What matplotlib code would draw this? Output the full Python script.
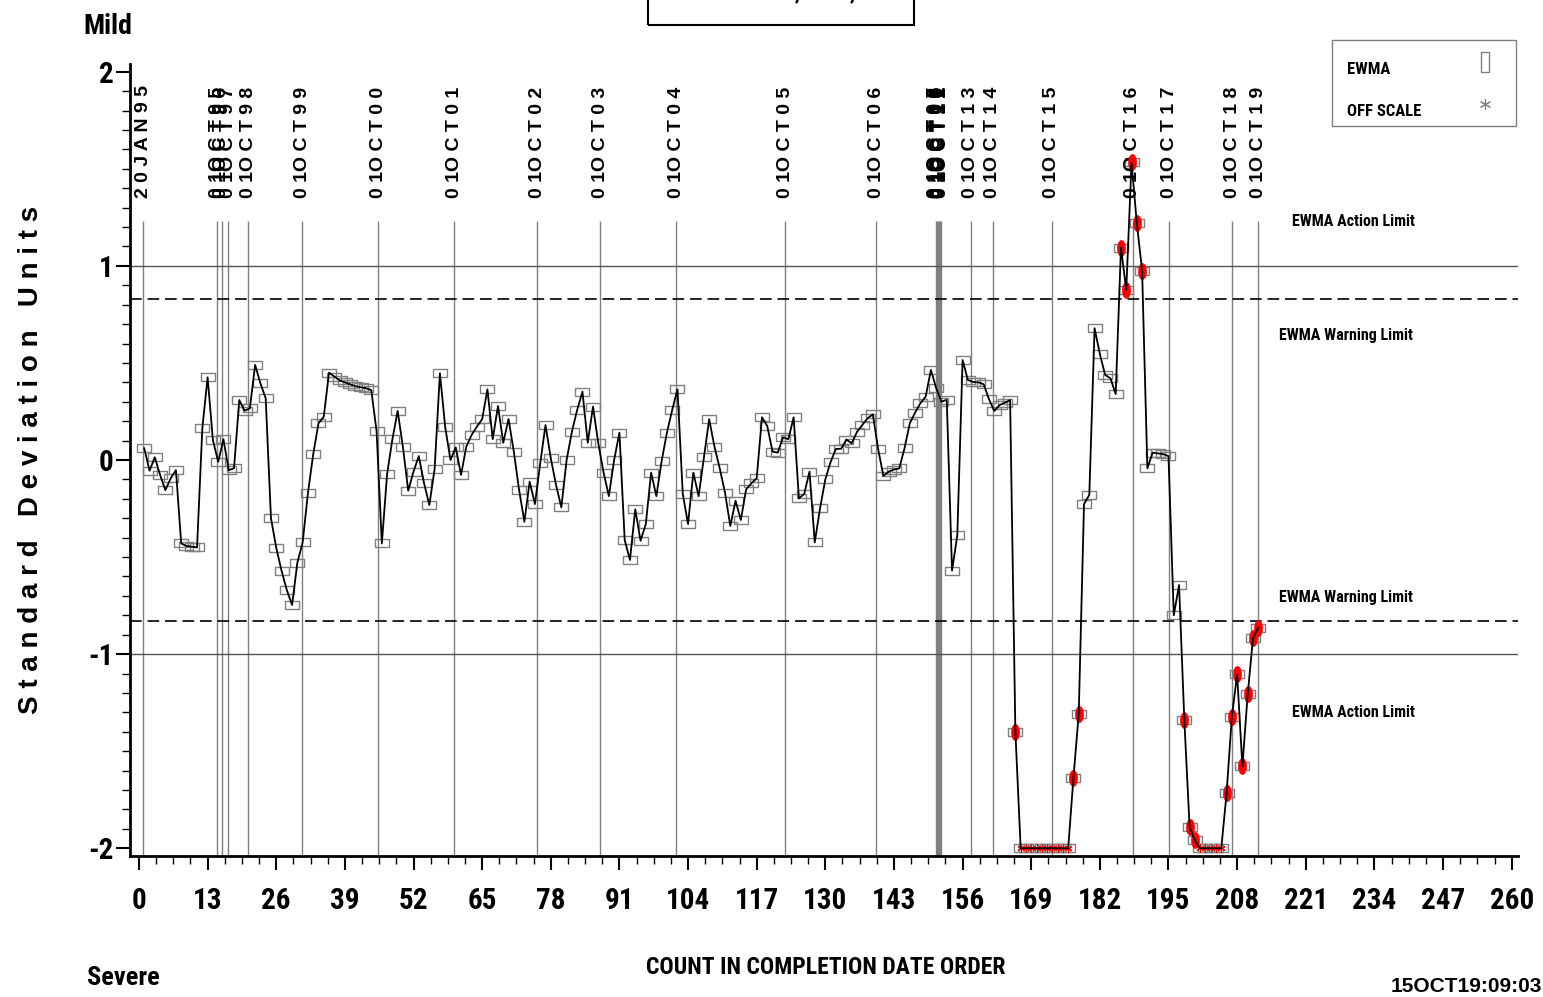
import matplotlib
matplotlib.use("Agg")
import matplotlib.pyplot as plt
import numpy as np
from matplotlib.ticker import MultipleLocator, FixedLocator
from matplotlib.lines import Line2D
from matplotlib.patches import Rectangle

W, H = 1543, 997

# EWMA in standard deviation units, cases 1..212 in completion date order.
# None = below the bottom of the scale, drawn on the floor as OFF SCALE.
ewma = [
    0.06, -0.055, 0.014, -0.077, -0.155, -0.095, -0.052, -0.43, -0.443, -0.447,
    -0.45, 0.163, 0.426, 0.103, -0.009, 0.107, -0.052, -0.043, 0.309, 0.254,
    0.266, 0.49, 0.395, 0.318, -0.30, -0.452, -0.57, -0.67, -0.747, -0.529,
    -0.424, -0.172, 0.029, 0.189, 0.223, 0.45, 0.43, 0.41, 0.40, 0.39,
    0.38, 0.375, 0.37, 0.36, 0.15, -0.43, -0.072, 0.107, 0.253, 0.065,
    -0.158, -0.06, 0.02, -0.12, -0.232, -0.046, 0.447, 0.17, 0.0, 0.065,
    -0.077, 0.069, 0.129, 0.172, 0.21, 0.364, 0.107, 0.278, 0.089, 0.211,
    0.043, -0.155, -0.318, -0.112, -0.227, -0.017, 0.180, 0.009, -0.129, -0.244,
    0.0, 0.146, 0.258, 0.352, 0.089, 0.275, 0.086, -0.065, -0.186, 0.0,
    0.141, -0.412, -0.515, -0.254, -0.416, -0.33, -0.065, -0.186, -0.005, 0.141,
    0.258, 0.364, -0.175, -0.33, -0.065, -0.186, 0.014, 0.21, 0.069, -0.043,
    -0.168, -0.34, -0.21, -0.309, -0.151, -0.12, -0.094, 0.22, 0.175, 0.043,
    0.038, 0.117, 0.107, 0.22, -0.198, -0.175, -0.06, -0.424, -0.249, -0.1,
    -0.01, 0.057, 0.058, 0.105, 0.086, 0.145, 0.18, 0.215, 0.235, 0.057,
    -0.082, -0.06, -0.049, -0.043, 0.06, 0.189, 0.244, 0.292, 0.326, 0.464,
    0.37, 0.30, 0.31, -0.57, -0.387, 0.515, 0.412, 0.402, 0.40, 0.39,
    0.313, 0.253, 0.283, 0.295, 0.309, -1.40, None, None, None, None,
    None, None, None, None, None, None, -1.637, -1.306, -0.227, -0.18,
    0.679, 0.546, 0.438, 0.421, 0.34, 1.094, 0.876, 1.533, 1.22, 0.976,
    -0.043, 0.038, 0.034, 0.03, 0.02, -0.80, -0.644, -1.34, -1.89, -1.96,
    None, None, None, None, None, -1.718, -1.323, -1.105, -1.577, -1.208,
    -0.919, -0.864,
]

# start of each fiscal year along the count axis
year_pos = [0.8, 14.8, 15.7, 16.9, 20.7, 30.9, 45.3, 59.7, 75.4, 87.4,
            101.8, 122.4, 139.6, 150.95, 151.15, 151.35, 151.55, 151.75,
            152.0, 157.5, 161.7, 172.9, 188.2, 195.1, 207.1, 212.0]
year_labels = ["2 0 J A N 9 5"] + ["0 1O C T %s" % " ".join(yy) for yy in
               ["95", "96", "97", "98", "99", "00", "01", "02", "03", "04",
                "05", "06", "07", "08", "09", "10", "11", "12", "13", "14",
                "15", "16", "17", "18", "19"]]

action_limit = 1.0
warning_limit = 0.83
floor = -2.0

narrow = dict(family=["Roboto Condensed", "DejaVu Sans"], stretch="condensed",
              weight="bold")
wide = dict(family="Liberation Sans", weight="bold")


def fx(px):
    return px / W


def fy(py):
    return 1 - py / H


count = np.arange(1, len(ewma) + 1)
y = np.array([-np.inf if v is None else v for v in ewma])
off = y < floor
y_plot = np.clip(y, floor, None)
alarm = (np.abs(y) > warning_limit) & ~off

fig = plt.figure(figsize=(W / 100, H / 100), dpi=100)
ax_w = (1518 - 130) / W
ax = fig.add_axes([fx(130), fy(856), ax_w, (856 - 64) / H])
ax.set_xlim(-1.7, 261.2)
ax.set_ylim(-2.04, 2.04)

# year boundaries with their dates above
ax.vlines(year_pos, -2.04, 1.23, color="#808080", lw=1, zorder=1)
for p, lab in zip(year_pos, year_labels):
    ax.text(p, 1.35, lab, rotation=90, ha="center", va="bottom",
            fontsize=14, **wide)

# control limits
for s in (1, -1):
    ax.axhline(s * action_limit, color="#555555", lw=1, zorder=1)
    ax.axhline(s * warning_limit, color="black", lw=1.2, dashes=(7, 3.5), zorder=1)

rect = [(-1, -0.52), (1, -0.52), (1, 0.52), (-1, 0.52), (-1, -0.52)]
t = np.linspace(0, 2 * np.pi, 41)
oval = list(zip(0.5 * np.cos(t), np.sin(t)))

ax.plot(count, y_plot, ls="none", marker=rect, ms=10, mfc="none",
        mec="#808080", mew=1, zorder=2)
ax.plot(count[alarm], y_plot[alarm], ls="none", marker=oval, ms=11.5,
        mfc="red", mec="red", mew=0.5, zorder=3)
ax.plot(count[off], y_plot[off], ls="none", marker=(6, 2, 0), ms=6,
        color="red", mew=0.8, zorder=3)
ax.plot(count, y_plot, color="black", lw=1.3, zorder=4)

ax.text(230, 1.227, "EWMA Action Limit", ha="center", va="center",
        fontsize=11.5, **narrow)
ax.text(228.6, 0.64, "EWMA Warning Limit", ha="center", va="center",
        fontsize=11.5, **narrow)
ax.text(228.6, -0.71, "EWMA Warning Limit", ha="center", va="center",
        fontsize=11.5, **narrow)
ax.text(230, -1.30, "EWMA Action Limit", ha="center", va="center",
        fontsize=11.5, **narrow)

# axes
ax.set_xticks(np.arange(0, 261, 13))
ax.xaxis.set_minor_locator(MultipleLocator(3.25))
ax.yaxis.set_major_locator(FixedLocator([-2, -1, 0, 1, 2]))
ax.set_yticklabels(["-2", "-1", "0", "1", "2"])
ax.yaxis.set_minor_locator(MultipleLocator(0.1))
ax.tick_params(which="major", direction="out", length=10, width=1.5)
ax.tick_params(which="minor", direction="out", length=6, width=1)
ax.tick_params(axis="x", pad=12)
ax.tick_params(axis="y", pad=2)
for lab in ax.get_xticklabels() + ax.get_yticklabels():
    lab.set_family(narrow["family"])
    lab.set_fontstretch(narrow["stretch"])
    lab.set_fontweight("bold")
    lab.set_fontsize(21)
for side in ("top", "right"):
    ax.spines[side].set_visible(False)
for side in ("left", "bottom"):
    ax.spines[side].set_linewidth(2)

ax.set_ylabel("S t a n d a r d   D e v i a t i o n   U n i t s", fontsize=20,
              labelpad=0, **wide)
ax.yaxis.set_label_coords((44 - 130) / W / ax_w, 0.5)

fig.text(fx(108), fy(27), "Mild", ha="center", va="center", fontsize=20,
         **narrow)
fig.text(fx(123), fy(978), "Severe", ha="center", va="center", fontsize=19,
         **narrow)
fig.text(fx(826), fy(967), "COUNT IN COMPLETION DATE ORDER", ha="center",
         va="center", fontsize=17, **narrow)
fig.text(fx(1542), fy(986), "15OCT19:09:03", ha="right", va="center",
         fontsize=15, **wide)

# title box, running off the top edge
fig.add_artist(Rectangle((fx(648), fy(25)), fx(914 - 648), 30 / H,
                         transform=fig.transFigure, fill=False,
                         ec="black", lw=1.5))
fig.text(fx(781), fy(-1), "EWMA CHART, UNIT, ALL", ha="center",
         va="baseline", fontsize=16, **narrow)

# legend
fig.add_artist(Rectangle((fx(1332), fy(126)), fx(1516 - 1332), 86 / H,
                         transform=fig.transFigure, fill=False,
                         ec="#808080", lw=1))
fig.text(fx(1347), fy(69), "EWMA", ha="left", va="center", fontsize=12,
         **narrow)
fig.text(fx(1347), fy(111), "OFF SCALE", ha="left", va="center", fontsize=12,
         **narrow)
tall = [(-0.4, -1), (0.4, -1), (0.4, 1), (-0.4, 1), (-0.4, -1)]
fig.add_artist(Line2D([fx(1485)], [fy(62)], transform=fig.transFigure,
                      ls="none", marker=tall, ms=15, mfc="none",
                      mec="#808080", mew=1))
fig.add_artist(Line2D([fx(1485)], [fy(104)], transform=fig.transFigure,
                      ls="none", marker=(6, 2, 0), ms=8, color="#808080",
                      mew=0.8))

fig.savefig("out.png", dpi=100)
